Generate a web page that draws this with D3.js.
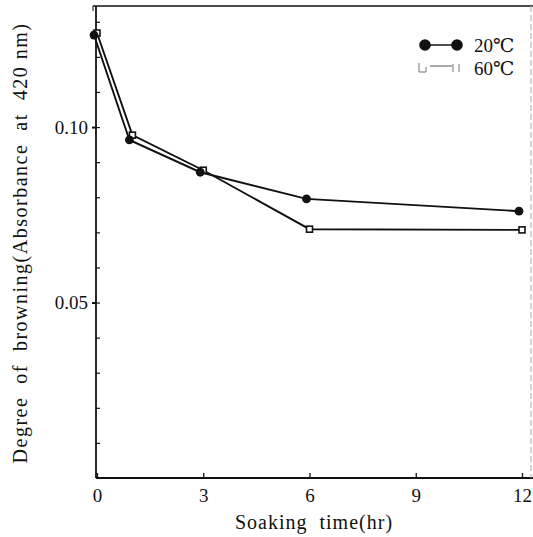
<!DOCTYPE html>
<html>
<head>
<meta charset="utf-8">
<script src="https://cdn.jsdelivr.net/npm/d3@7"></script>
<style>
  html, body { margin: 0; padding: 0; background: #fff; }
  svg { display: block; }
</style>
</head>
<body>
<svg id="chart" width="533" height="537"></svg>
<script>
// Soaking time (hr)
const hours = [0, 1, 3, 6, 12];
// Absorbance at 420 nm for each soaking temperature
const abs20 = [0.1268, 0.0969, 0.0877, 0.0801, 0.0766];
const abs60 = [0.1268, 0.0977, 0.0877, 0.0709, 0.0707];
const seriesNames = ["20\u2103", "60\u2103"];
const xTickValues = [0, 3, 6, 9, 12];
const yLabelTicks = [0.05, 0.10];
const yMinorTicks = [0.01, 0.02, 0.03, 0.04, 0.05, 0.06, 0.07, 0.08, 0.09, 0.10, 0.11, 0.12, 0.13];

const serif = "'Liberation Serif', 'Times New Roman', Tinos, 'DejaVu Serif', serif";
const svg = d3.select("#chart").style("font-family", serif);
const x = d3.scaleLinear().domain([0, 12]).range([97, 522]);
const y = d3.scaleLinear().domain([0, 0.1345]).range([478, 6]);

const ink = "#111";

// frame: left axis, bottom axis, top and right edges
svg.append("line").attr("x1", 96).attr("x2", 96).attr("y1", 6).attr("y2", 478)
  .attr("stroke", ink).attr("stroke-width", 1.8);
svg.append("line").attr("x1", 96).attr("x2", 533).attr("y1", 478).attr("y2", 478)
  .attr("stroke", ink).attr("stroke-width", 1.8);
svg.append("line").attr("x1", 93).attr("x2", 533).attr("y1", 6).attr("y2", 6)
  .attr("stroke", ink).attr("stroke-width", 1.3);
svg.append("line").attr("x1", 93).attr("x2", 93).attr("y1", 6).attr("y2", 11)
  .attr("stroke", ink).attr("stroke-width", 1);
svg.append("line").attr("x1", 531).attr("x2", 531).attr("y1", 6).attr("y2", 478)
  .attr("stroke", "#aaa").attr("stroke-width", 1).attr("stroke-dasharray", "6,3");

// y ticks pointing inward
const gy = svg.append("g").attr("transform", "translate(96,0)")
  .call(d3.axisRight(y).tickValues(yMinorTicks).tickSize(4).tickFormat(""));
gy.select(".domain").remove();
gy.selectAll(".tick line").attr("stroke", ink).attr("stroke-width", 1.2);

// labelled y ticks
const gyl = svg.append("g").attr("transform", "translate(96,0)")
  .call(d3.axisLeft(y).tickValues(yLabelTicks).tickSize(4).tickPadding(4).tickFormat(d3.format(".2f")));
gyl.select(".domain").remove();
gyl.attr("font-family", null);
gyl.selectAll(".tick line").attr("stroke", ink).attr("stroke-width", 2);
gyl.selectAll(".tick text").attr("font-size", 19).attr("fill", ink);

// x ticks pointing inward, labels below
const gx = svg.append("g").attr("transform", "translate(0,478)")
  .call(d3.axisBottom(x).tickValues(xTickValues).tickSize(-5).tickPadding(11).tickFormat(d3.format("d")));
gx.select(".domain").remove();
gx.attr("font-family", null);
gx.selectAll(".tick line").attr("stroke", ink).attr("stroke-width", 1.3);
gx.selectAll(".tick text").attr("font-size", 19).attr("fill", ink);

// axis titles
svg.append("text").attr("x", 314).attr("y", 529).attr("text-anchor", "middle")
  .attr("font-size", 20).attr("letter-spacing", 1).attr("fill", ink).style("white-space", "pre")
  .text("Soaking  time(hr)");
svg.append("text").attr("transform", "translate(27,243) rotate(-90)").attr("text-anchor", "middle")
  .attr("font-size", 20).attr("letter-spacing", 1.5).attr("fill", ink).style("white-space", "pre")
  .text("Degree  of  browning(Absorbance  at  420 nm)");

// series lines
const line = d3.line().x(d => x(d[0])).y(d => y(d[1]));
const pts20 = hours.map((h, i) => [h, abs20[i]]);
const pts60 = hours.map((h, i) => [h, abs60[i]]);

svg.append("path").datum(pts60).attr("d", line).attr("fill", "none")
  .attr("stroke", ink).attr("stroke-width", 1.9);
svg.append("path").datum(pts20).attr("d", line).attr("fill", "none")
  .attr("stroke", ink).attr("stroke-width", 1.9)
  .attr("transform", "translate(-3,2)");

// markers: open squares for 60℃, filled circles for 20℃
svg.selectAll("rect.m60").data(pts60).join("rect").attr("class", "m60")
  .attr("x", d => x(d[0]) - 3).attr("y", d => y(d[1]) - 3)
  .attr("width", 6).attr("height", 6)
  .attr("fill", "#fff").attr("stroke", ink).attr("stroke-width", 1.6);
svg.selectAll("circle.m20").data(pts20).join("circle").attr("class", "m20")
  .attr("cx", d => x(d[0]) - 3).attr("cy", d => y(d[1]) + 2)
  .attr("r", 4.4).attr("fill", ink);

// legend
const lg = svg.append("g");
lg.append("line").attr("x1", 425).attr("x2", 457).attr("y1", 45).attr("y2", 45)
  .attr("stroke", ink).attr("stroke-width", 1.5);
lg.append("circle").attr("cx", 425).attr("cy", 45).attr("r", 5.8).attr("fill", ink);
lg.append("circle").attr("cx", 457).attr("cy", 45).attr("r", 5.8).attr("fill", ink);
lg.append("text").attr("x", 474).attr("y", 52).attr("font-size", 19).attr("fill", ink).text(seriesNames[0]);

lg.append("line").attr("x1", 430).attr("x2", 452).attr("y1", 66).attr("y2", 66)
  .attr("stroke", "#555").attr("stroke-width", 1);
lg.append("path").attr("d", "M419,63 v9 h7 v-5")
  .attr("fill", "none").attr("stroke", "#777").attr("stroke-width", 1);
lg.append("path").attr("d", "M453,64 v8 M459,64 v8")
  .attr("fill", "none").attr("stroke", "#777").attr("stroke-width", 1);
lg.append("text").attr("x", 474).attr("y", 75).attr("font-size", 19).attr("fill", ink).text(seriesNames[1]);
</script>
</body>
</html>
